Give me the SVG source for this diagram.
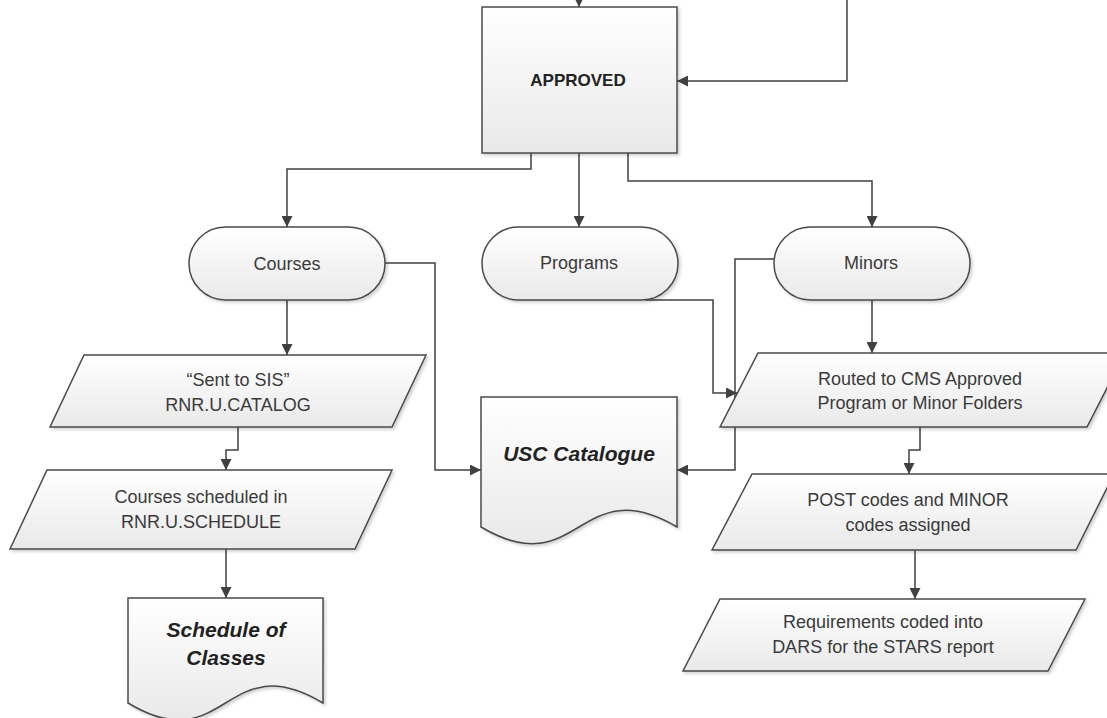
<svg xmlns="http://www.w3.org/2000/svg" width="1107" height="718" viewBox="0 0 1107 718">
<defs>
<linearGradient id="g" x1="0" y1="0" x2="0" y2="1">
<stop offset="0" stop-color="#ffffff"/>
<stop offset="1" stop-color="#e9e9e9"/>
</linearGradient>
<filter id="sh" x="-10%" y="-10%" width="125%" height="125%">
<feDropShadow dx="2" dy="2" stdDeviation="1.5" flood-color="#000" flood-opacity="0.18"/>
</filter>
<marker id="ah" viewBox="0 0 10 10" refX="10" refY="5" markerWidth="11" markerHeight="11" markerUnits="userSpaceOnUse" orient="auto">
<path d="M0,0 L10,5 L0,10 Z" fill="#404040"/>
</marker>
</defs>
<style>
.n{fill:url(#g);stroke:#4a4a4a;stroke-width:1.5;filter:url(#sh)}
.c{fill:none;stroke:#404040;stroke-width:1.5;marker-end:url(#ah)}
.t{font-family:"Liberation Sans",Arial,sans-serif;font-size:18px;fill:#3a3a3a;text-anchor:middle}
.b{font-family:"Liberation Sans",Arial,sans-serif;font-size:17px;font-weight:bold;fill:#222;text-anchor:middle}
.bi{font-family:"Liberation Sans",Arial,sans-serif;font-size:21px;font-weight:bold;font-style:italic;fill:#222;text-anchor:middle}
</style>
<rect width="1107" height="718" fill="#ffffff"/>
<g id="connectors">
<path class="c" d="M579,-10 V7"/>
<path class="c" d="M847,0 V81 H677"/>
<path class="c" d="M531,153 V169 H287 V227"/>
<path class="c" d="M579,153 V227"/>
<path class="c" d="M628,153 V181 H872 V227"/>
<path class="c" d="M385,263 H435 V470 H481"/>
<path class="c" d="M645,300 H713 V393 H737"/>
<path class="c" d="M774,259 H735 V470 H677"/>
<path class="c" d="M872,300 V353"/>
<path class="c" d="M920,427 V450 H909 V474"/>
<path class="c" d="M915,550 V599"/>
<path class="c" d="M287,300 V355"/>
<path class="c" d="M238,427 V450 H226 V470"/>
<path class="c" d="M226,549 V598"/>
</g>
<g id="approved">
<rect class="n" x="482" y="7" width="195" height="146"/>
<text class="b" x="578" y="86">APPROVED</text>
</g>
<g id="courses">
<rect class="n" x="189" y="227" width="196" height="73" rx="36.5"/>
<text class="t" x="287" y="270">Courses</text>
</g>
<g id="programs">
<rect class="n" x="482" y="227" width="196" height="73" rx="36.5"/>
<text class="t" x="579" y="269">Programs</text>
</g>
<g id="minors">
<rect class="n" x="774" y="227" width="196" height="73" rx="36.5"/>
<text class="t" x="871" y="269">Minors</text>
</g>
<g id="sent">
<path class="n" d="M84,355 H426 L392,427 H50 Z"/>
<text class="t" x="238" y="386">“Sent to SIS”</text>
<text class="t" x="238" y="411">RNR.U.CATALOG</text>
</g>
<g id="scheduled">
<path class="n" d="M47,470 H392 L355,549 H10 Z"/>
<text class="t" x="201" y="503">Courses scheduled in</text>
<text class="t" x="201" y="528">RNR.U.SCHEDULE</text>
</g>
<g id="schedule-of-classes">
<path class="n" d="M128,598 H323 V703 C225,644 226,762 128,703 Z"/>
<text class="bi" x="226" y="637">Schedule of</text>
<text class="bi" x="226" y="665">Classes</text>
</g>
<g id="usc-catalogue">
<path class="n" d="M481,397 H677 V527 C579,469 579,585 481,527 Z"/>
<text class="bi" x="579" y="461">USC Catalogue</text>
</g>
<g id="routed">
<path class="n" d="M758,353 H1125 L1087,427 H720 Z"/>
<text class="t" x="920" y="385">Routed to CMS Approved</text>
<text class="t" x="920" y="409">Program or Minor Folders</text>
</g>
<g id="post">
<path class="n" d="M752,474 H1114 L1076,550 H712 Z"/>
<text class="t" x="908" y="506">POST codes and MINOR</text>
<text class="t" x="908" y="531">codes assigned</text>
</g>
<g id="requirements">
<path class="n" d="M720,599 H1085 L1048,671 H683 Z"/>
<text class="t" x="883" y="628">Requirements coded into</text>
<text class="t" x="883" y="653">DARS for the STARS report</text>
</g>
</svg>
